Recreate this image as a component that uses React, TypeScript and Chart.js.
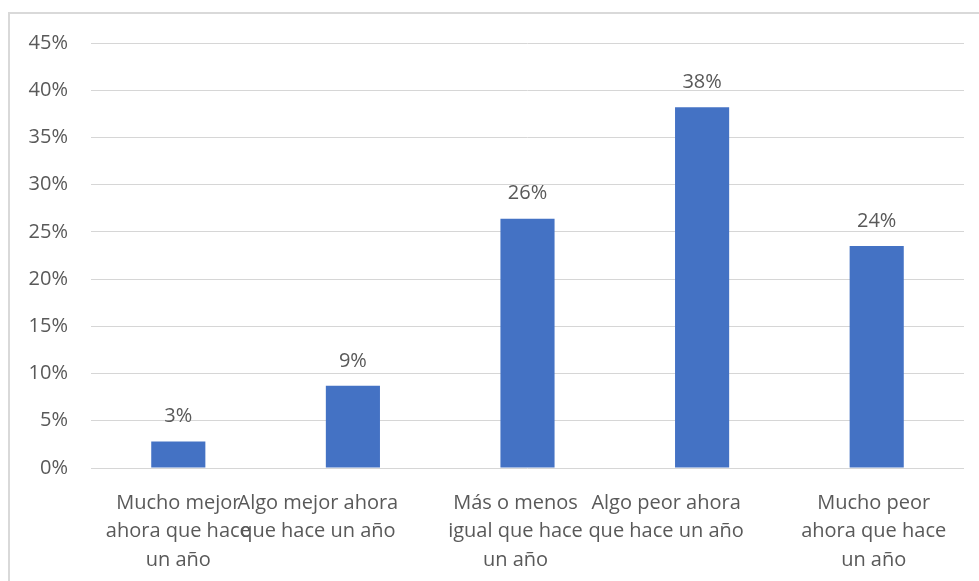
import React, { useEffect, useRef } from "react";
import { Chart, registerables, CategoryScale } from "chart.js";

Chart.register(...registerables);

const categories: string[][] = [
  ["Mucho mejor", "ahora que hace", "un año"],
  ["Algo mejor ahora", "que hace un año"],
  ["Más o menos", "igual que hace", "un año"],
  ["Algo peor ahora", "que hace un año"],
  ["Mucho peor", "ahora que hace", "un año"],
];
const values: number[] = [2.8, 8.7, 26.4, 38.2, 23.5];
const yMin = 0;
const yMax = 45;
const yStep = 5;

// horizontal nudges of the category labels (as laid out in the source picture)
const labelNudge: number[] = [0, -35, -12, -36, -3];

const FONT = "'Open Sans', sans-serif";
const TEXT = "#595959";

class NudgedCategoryScale extends (CategoryScale as any) {
  static id = "nudgedCategory";
  static defaults = (CategoryScale as any).defaults;
  _computeLabelItems(chartArea: any) {
    const items = super._computeLabelItems(chartArea);
    items.forEach((it: any, i: number) => {
      if (it && it.options && it.options.translation) {
        it.options.translation = [
          it.options.translation[0] + (labelNudge[i] || 0),
          it.options.translation[1],
        ];
      }
    });
    return items;
  }
}
Chart.register(NudgedCategoryScale as any);

const dataLabelPlugin = {
  id: "dataLabels",
  afterDatasetsDraw(chart: any) {
    const ctx = chart.ctx;
    const meta = chart.getDatasetMeta(0);
    ctx.save();
    ctx.font = `20px ${FONT}`;
    ctx.fillStyle = TEXT;
    ctx.textAlign = "center";
    ctx.textBaseline = "middle";
    meta.data.forEach((bar: any, i: number) => {
      const v = chart.data.datasets[0].data[i] as number;
      ctx.fillText(`${Math.round(v)}%`, bar.x, bar.y - 25);
    });
    ctx.restore();
  },
};

export default function App() {
  const ref = useRef<HTMLCanvasElement | null>(null);
  useEffect(() => {
    if (!ref.current) return;
    const chart = new Chart(ref.current, {
      type: "bar",
      data: {
        labels: categories,
        datasets: [
          {
            data: values,
            backgroundColor: "#4472C4",
            categoryPercentage: 1,
            barPercentage: 0.31,
          },
        ],
      },
      options: {
        animation: false,
        responsive: false,
        devicePixelRatio: 1,
        layout: { padding: { left: 0, right: 15, top: 43, bottom: 0 } },
        plugins: { legend: { display: false }, tooltip: { enabled: false } },
        scales: {
          x: {
            type: "nudgedCategory" as any,
            grid: { display: false, drawTicks: false },
            border: { display: false },
            ticks: {
              autoSkip: false,
              maxRotation: 0,
              minRotation: 0,
              padding: 21,
              color: TEXT,
              font: { family: FONT, size: 20, lineHeight: 1.425 },
            },
            afterFit: (s: any) => {
              s.height = 581 - 468;
            },
          },
          y: {
            min: yMin,
            max: yMax,
            grid: { color: "#d6d6d6", lineWidth: 1, drawTicks: false },
            border: { display: false },
            ticks: {
              stepSize: yStep,
              padding: 23,
              color: TEXT,
              font: { family: FONT, size: 20 },
              callback: (v: any) => `${v}%`,
            },
            afterFit: (s: any) => {
              s.width = 91;
            },
          },
        },
      },
      plugins: [dataLabelPlugin],
    });
    return () => chart.destroy();
  }, []);

  return (
    <>
      <div
        style={{
          position: "fixed",
          left: 8,
          top: 12,
          width: 971,
          height: 569,
          borderLeft: "2px solid #d9d9d9",
          borderTop: "2px solid #d9d9d9",
          boxSizing: "border-box",
        }}
      />
      <canvas
        ref={ref}
        width={979}
        height={581}
        style={{ position: "fixed", left: 0, top: 0, width: 979, height: 581 }}
      />
    </>
  );
}
